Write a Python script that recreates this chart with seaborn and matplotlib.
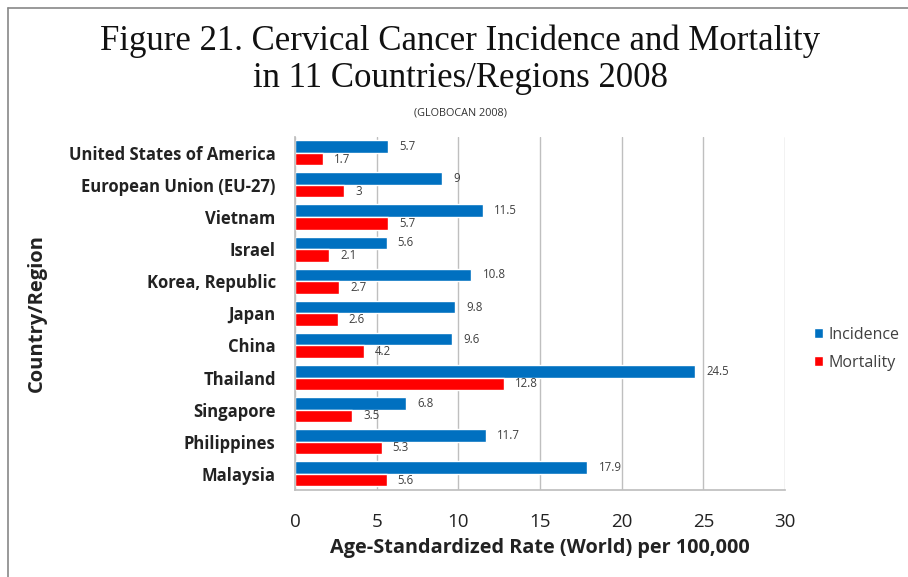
import pandas as pd
import matplotlib.pyplot as plt
import seaborn as sns
from matplotlib.lines import Line2D

# Data
countries = ["United States of America", "European Union (EU-27)", "Vietnam", "Israel",
             "Korea, Republic", "Japan", "China", "Thailand", "Singapore",
             "Philippines", "Malaysia"]
incidence = [5.7, 9, 11.5, 5.6, 10.8, 9.8, 9.6, 24.5, 6.8, 11.7, 17.9]
mortality = [1.7, 3, 5.7, 2.1, 2.7, 2.6, 4.2, 12.8, 3.5, 5.3, 5.6]
measures = ["Incidence", "Mortality"]
colors = ["#0070C0", "#FF0000"]

df = pd.DataFrame({"country": countries * 2,
                   "measure": ["Incidence"] * len(countries) + ["Mortality"] * len(countries),
                   "value": incidence + mortality})

sns.set_theme(style="white")
plt.rcParams['font.family'] = ['Open Sans', 'DejaVu Sans']

fig = plt.figure(figsize=(9.08, 5.77), dpi=100)
ax = fig.add_axes([0.325, 0.151, 0.5395, 0.612])

sns.barplot(data=df, y="country", x="value", hue="measure", hue_order=measures,
            palette=colors, orient="h", width=0.78, saturation=1, ax=ax, legend=True)

ax.set_xlim(0, 30)
ax.set_xticks(range(0, 31, 5))
ax.xaxis.grid(True, color="#BFBFBF", linewidth=1)
ax.set_axisbelow(True)
for s in ["top", "right"]:
    ax.spines[s].set_visible(False)
ax.spines["left"].set_color("#BFBFBF")
ax.spines["bottom"].set_color("#BFBFBF")

# value labels
for cont in ax.containers:
    ax.bar_label(cont, labels=[f"{v:g}" for v in cont.datavalues], padding=8,
                 fontsize=8.3, color="#404040")

ax.tick_params(axis="x", labelsize=13.5, colors="#222222", length=0, pad=17)
ax.tick_params(axis="y", labelsize=12, length=0, pad=14)
for t in ax.get_yticklabels():
    t.set_fontweight("bold")
    t.set_color("#222222")

ax.set_xlabel("Age-Standardized Rate (World) per 100,000", fontsize=14.3,
              fontweight="bold", labelpad=5, color="#222222")
ax.set_ylabel("")
fig.text(0.041, 0.458, "Country/Region", rotation=90, ha="center", va="center",
         fontsize=14.5, fontweight="bold", color="#222222")

leg = ax.legend(loc="center left", bbox_to_anchor=(1.03, 0.4), frameon=False,
                fontsize=11.5, handlelength=0.55, handleheight=0.55, handletextpad=0.35,
                labelspacing=0.75)
for txt in leg.get_texts():
    txt.set_color("#404040")

# titles
fig.text(0.507, 0.928, "Figure 21. Cervical Cancer Incidence and Mortality",
         ha="center", va="center", fontsize=25, family="Liberation Serif", color="#111111")
fig.text(0.507, 0.864, "in 11 Countries/Regions 2008",
         ha="center", va="center", fontsize=25, family="Liberation Serif", color="#111111")
fig.text(0.507, 0.805, "(GLOBOCAN 2008)", ha="center", va="center",
         fontsize=7.8, color="#333333")

# outer frame lines
fig.add_artist(Line2D([8 / 908, 8 / 908], [0, 1 - 8 / 577], color="#888888", linewidth=1.2))
fig.add_artist(Line2D([8 / 908, 1], [1 - 8 / 577, 1 - 8 / 577], color="#888888", linewidth=1.2))

plt.savefig("out.png", dpi=100)
plt.close()
